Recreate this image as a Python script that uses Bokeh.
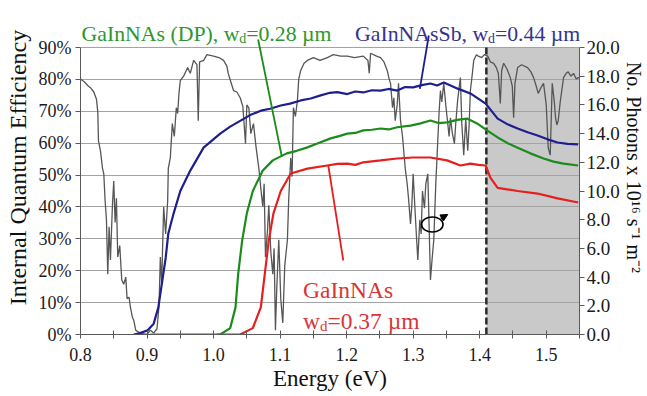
import math
from bokeh.plotting import figure
from bokeh.models import (Range1d, LinearAxis, FixedTicker, Label, Arrow,
                          NormalHead, BoxAnnotation)
from bokeh.embed import file_html
from bokeh.resources import INLINE

# ---------------- data ----------------
X_TICKS = [0.8, 0.9, 1.0, 1.1, 1.2, 1.3, 1.4, 1.5]
X_TICK_LABELS = ["0.8", "0.9", "1.0", "1.1", "1.2", "1.3", "1.4", "1.5"]
X_MINOR_TICKS = [0.85, 0.95, 1.05, 1.15, 1.25, 1.35, 1.45, 1.55]
IQE_TICKS = [0, 10, 20, 30, 40, 50, 60, 70, 80, 90]
IQE_TICK_LABELS = ["0%", "10%", "20%", "30%", "40%", "50%", "60%", "70%", "80%", "90%"]
PH_TICKS = [0, 2, 4, 6, 8, 10, 12, 14, 16, 18, 20]
PH_TICK_LABELS = ["0.0", "2.0", "4.0", "6.0", "8.0", "10.0", "12.0", "14.0", "16.0", "18.0", "20.0"]

GAAS_EDGE = 1.41  # eV, dashed line / start of grey region

# GaInNAsSb, wd = 0.44 um (IQE %)
SB_E = [0.880, 0.887, 0.901, 0.910, 0.917, 0.923, 0.928, 0.932, 0.940, 0.950,
        0.965, 0.985, 1.010, 1.025, 1.040, 1.055, 1.071, 1.085, 1.101, 1.115,
        1.131, 1.146, 1.161, 1.175, 1.186, 1.201, 1.213, 1.225, 1.238, 1.251,
        1.263, 1.276, 1.288, 1.300, 1.313, 1.326, 1.336, 1.346, 1.357, 1.367,
        1.386, 1.409, 1.427, 1.442, 1.457, 1.472, 1.487, 1.502, 1.517, 1.532, 1.548]
SB_IQE = [0.0, 0.3, 1.3, 3.4, 8.5, 17.0, 24.0, 31.7, 38.0, 45.0,
          51.4, 58.6, 63.0, 65.2, 67.0, 68.8, 70.2, 70.8, 71.8, 72.4,
          73.4, 74.0, 75.0, 75.8, 76.0, 75.4, 76.2, 75.9, 76.6, 76.5,
          77.0, 76.5, 77.6, 77.5, 78.2, 78.7, 78.1, 79.0, 78.0, 77.1,
          75.6, 72.4, 67.7, 65.9, 64.6, 63.4, 62.4, 61.2, 60.2, 59.8, 59.6]

# GaInNAs (DP), wd = 0.28 um (IQE %)
DP_E = [0.905, 1.010, 1.025, 1.033, 1.037, 1.043, 1.050, 1.059, 1.074, 1.089,
        1.110, 1.125, 1.140, 1.155, 1.176, 1.190, 1.201, 1.213, 1.225, 1.238,
        1.251, 1.263, 1.276, 1.296, 1.311, 1.326, 1.338, 1.351, 1.366, 1.381,
        1.396, 1.411, 1.427, 1.442, 1.457, 1.476, 1.496, 1.511, 1.526, 1.548]
DP_IQE = [0.0, 0.0, 2.0, 8.5, 19.0, 29.5, 38.0, 45.0, 51.4, 54.6,
          56.8, 57.6, 58.6, 59.8, 61.5, 62.3, 63.0, 63.2, 64.0, 64.2,
          64.6, 64.3, 65.0, 65.5, 66.2, 67.1, 66.3, 66.5, 67.3, 67.7,
          66.2, 64.0, 61.8, 60.0, 58.6, 56.8, 55.2, 54.2, 53.6, 53.0]

# GaInNAs, wd = 0.37 um (IQE %)
NA_E = [1.005, 1.040, 1.059, 1.071, 1.077, 1.083, 1.090, 1.101, 1.116, 1.141,
        1.171, 1.186, 1.201, 1.213, 1.225, 1.238, 1.251, 1.276, 1.300, 1.326,
        1.351, 1.371, 1.386, 1.398, 1.409, 1.416, 1.427, 1.457, 1.487, 1.517, 1.548]
NA_IQE = [0.0, 0.0, 2.0, 8.5, 19.0, 29.5, 38.0, 45.0, 50.5, 52.0,
          53.0, 53.5, 53.6, 53.2, 54.0, 54.3, 54.6, 55.2, 55.5, 55.5,
          54.6, 53.0, 53.6, 53.2, 53.0, 49.2, 46.0, 45.0, 44.2, 42.7, 41.4]

# Photon flux (x 1e16 s^-1 m^-2)
PH_E = [0.800, 0.806, 0.812, 0.815, 0.820, 0.824, 0.826, 0.827, 0.830, 0.833,
        0.835, 0.837, 0.839, 0.841, 0.843, 0.845, 0.848, 0.850, 0.852, 0.854,
        0.856, 0.859, 0.862, 0.865, 0.868, 0.870, 0.873, 0.875, 0.878, 0.880,
        0.883, 0.886, 0.890, 0.900, 0.905, 0.910, 0.915, 0.918, 0.920, 0.922,
        0.925, 0.928, 0.931, 0.932, 0.935, 0.938, 0.941, 0.944, 0.946, 0.948,
        0.950, 0.955, 0.961, 0.965, 0.970, 0.975, 0.977, 0.979, 0.985, 0.990,
        1.000, 1.008, 1.015, 1.020, 1.022, 1.026, 1.030, 1.035, 1.040, 1.044,
        1.048, 1.050, 1.053, 1.056, 1.060, 1.064, 1.068, 1.071, 1.074, 1.076,
        1.078, 1.081, 1.083, 1.086, 1.089, 1.091, 1.093, 1.095, 1.098, 1.101,
        1.104, 1.107, 1.111, 1.113, 1.116, 1.118, 1.120, 1.123, 1.126, 1.128,
        1.131, 1.136, 1.141, 1.150, 1.160, 1.171, 1.180, 1.191, 1.201, 1.212,
        1.225, 1.232, 1.234, 1.236, 1.245, 1.251, 1.256, 1.261, 1.264, 1.266,
        1.269, 1.271, 1.273, 1.276, 1.278, 1.281, 1.284, 1.288, 1.291, 1.293,
        1.296, 1.298, 1.300, 1.303, 1.305, 1.307, 1.310, 1.312, 1.314, 1.317,
        1.319, 1.322, 1.324, 1.326, 1.328, 1.331, 1.334, 1.337, 1.339, 1.341,
        1.343, 1.346, 1.349, 1.352, 1.354, 1.356, 1.359, 1.362, 1.364, 1.367,
        1.371, 1.373, 1.376, 1.379, 1.382, 1.384, 1.386, 1.389, 1.391, 1.395,
        1.398, 1.403, 1.407, 1.412, 1.416, 1.421, 1.425, 1.428, 1.431, 1.433,
        1.436, 1.441, 1.446, 1.449, 1.451, 1.453, 1.457, 1.463, 1.472, 1.477,
        1.481, 1.485, 1.488, 1.492, 1.496, 1.500, 1.503, 1.506, 1.509, 1.512,
        1.514, 1.516, 1.518, 1.521, 1.526, 1.530, 1.533, 1.537, 1.541, 1.545,
        1.548, 1.550]
PH_FLUX = [17.8, 17.6, 17.3, 17.2, 16.9, 16.4, 15.5, 13.5, 12.8, 11.6,
           11.2, 9.3, 8.0, 4.2, 7.5, 5.2, 9.0, 10.7, 7.8, 9.5,
           5.4, 6.2, 3.8, 3.5, 4.0, 2.5, 2.6, 1.9, 1.2, 1.0,
           0.3, 0.2, 0.1, 0.0, 0.3, 0.1, 0.4, 2.0, 5.4, 3.5,
           8.9, 7.0, 9.3, 11.6, 12.3, 14.7, 13.8, 15.8, 15.4, 16.8,
           17.7, 18.0, 18.6, 18.2, 19.1, 18.8, 14.9, 19.0, 19.1, 19.5,
           19.4, 19.3, 19.1, 18.7, 18.2, 17.6, 17.0, 16.9, 16.5, 15.9,
           13.3, 16.0, 15.8, 14.0, 14.7, 13.0, 11.6, 10.2, 8.9, 10.5,
           5.4, 7.2, 9.0, 5.8, 4.2, 6.0, 0.3, 3.2, 6.6, 2.5,
           0.8, 4.8, 6.6, 9.5, 12.3, 11.0, 15.8, 15.2, 16.3, 17.8,
           18.4, 18.9, 19.1, 19.3, 19.1, 19.3, 19.5, 19.4, 19.4, 19.3,
           19.4, 19.1, 18.2, 19.6, 19.4, 19.3, 19.0, 18.4, 17.8, 17.5,
           15.8, 16.5, 14.9, 16.0, 17.5, 14.9, 13.8, 11.6, 10.5, 9.5,
           7.7, 9.0, 11.2, 8.5, 6.8, 5.2, 8.0, 7.0, 10.0, 8.8,
           10.5, 11.2, 7.5, 3.8, 5.0, 6.6, 10.5, 13.5, 15.5, 17.0,
           16.2, 17.5, 16.0, 14.7, 13.8, 15.1, 14.0, 13.3, 14.7, 16.4,
           17.9, 14.8, 12.5, 15.0, 12.8, 14.5, 17.0, 18.2, 19.1, 19.5,
           19.4, 19.3, 19.5, 19.4, 19.0, 18.9, 18.6, 18.2, 16.1, 18.4,
           18.9, 18.5, 17.9, 17.3, 15.1, 17.5, 18.6, 18.8, 18.6, 18.3,
           17.9, 17.3, 16.8, 17.2, 17.5, 16.0, 13.0, 12.5, 17.5, 16.3,
           15.1, 14.6, 14.9, 16.2, 17.9, 18.2, 18.3, 18.0, 18.2, 17.8,
           17.9, 17.9]

# ---------------- layout / style ----------------
W, H = 647, 396
FL, FR, FT, FB = 80, 580, 47, 334   # page px of the data area (90 % line at FT)
X0, X1 = 0.8, 1.55
Y0, Y1 = 0, 90
PH_MAX = 20
FONT = "Liberation Serif"

GREEN, GREEN_T = "#1b8c1b", "#2f962f"
BLUE, BLUE_T = "#1e1e8c", "#35358c"
RED, RED_T = "#e61e1e", "#d93636"
GREY_LINE = "#565656"


def px2x(px):
    return X0 + (px - FL) / (FR - FL) * (X1 - X0)


def py2y(py):
    return Y0 + (FB - py) / (FB - FT) * (Y1 - Y0)


# the frame reaches the top of the page so that the headings are drawn inside it
p = figure(width=W, height=H, output_backend="svg", toolbar_location=None,
           x_range=Range1d(X0, X1), y_range=Range1d(Y0, py2y(0)),
           min_border_left=FL, min_border_right=W - FR,
           min_border_top=0, min_border_bottom=H - FB)
p.outline_line_color = None
p.background_fill_color = "white"
p.border_fill_color = "white"
p.extra_y_ranges = {"photons": Range1d(0, PH_MAX * py2y(0) / Y1)}

box = BoxAnnotation(left=GAAS_EDGE, right=X1, bottom=Y0, top=Y1, fill_color="#c9c9c9",
                    fill_alpha=1.0, line_color=None, level="underlay")
p.center = [box] + list(p.center)

p.xgrid.visible = False
p.ygrid.grid_line_color = "#a3a3a3"
p.ygrid.grid_line_width = 1
p.ygrid.ticker = FixedTicker(ticks=IQE_TICKS)

xa = p.xaxis[0]
xa.ticker = FixedTicker(ticks=X_TICKS, minor_ticks=X_MINOR_TICKS)
xa.major_label_overrides = {t: s for t, s in zip(X_TICKS, X_TICK_LABELS)}
xa.major_tick_in = 4
xa.major_tick_out = 4
xa.minor_tick_in = 4
xa.minor_tick_out = 4
xa.major_label_standoff = 9
xa.axis_label = "Energy (eV)"
xa.axis_label_text_font_size = "23px"
xa.axis_label_standoff = 2

ya = p.yaxis[0]
ya.ticker = FixedTicker(ticks=IQE_TICKS)
ya.bounds = (Y0, Y1)
ya.major_label_overrides = {t: s for t, s in zip(IQE_TICKS, IQE_TICK_LABELS)}
ya.major_tick_in = 0
ya.major_tick_out = 5
ya.major_label_standoff = 4
ya.axis_label = "Internal Quantum Efficiency"
ya.axis_label_text_font_size = "24px"
ya.axis_label_standoff = 5

ra = LinearAxis(y_range_name="photons", ticker=FixedTicker(ticks=PH_TICKS))
ra.bounds = (0, PH_MAX)
ra.major_label_overrides = {t: s for t, s in zip(PH_TICKS, PH_TICK_LABELS)}
ra.major_tick_in = 0
ra.major_tick_out = 5
ra.major_label_standoff = 2
ra.axis_label = "No. Photons x 10\u00b9\u2076 s\u207b\u00b9 m\u207b\u00b2"
ra.axis_label_text_font_size = "20px"
ra.axis_label_standoff = 0
p.add_layout(ra, "right")

for ax in (xa, ya, ra):
    ax.axis_line_color = "#5a5a5a"
    ax.major_tick_line_color = "#5a5a5a"
    ax.minor_tick_line_color = "#5a5a5a" if ax is xa else None
    ax.major_label_text_font = FONT
    ax.major_label_text_color = "#1a1a1a"
    ax.major_label_text_font_size = "18px"
    ax.axis_label_text_font = FONT
    ax.axis_label_text_font_style = "normal"
    ax.axis_label_text_color = "#111111"
ra.major_label_text_font_size = "19px"

# curves
p.line(PH_E, PH_FLUX, y_range_name="photons", line_color=GREY_LINE, line_width=1.3)
p.segment(x0=[GAAS_EDGE], y0=[Y0], x1=[GAAS_EDGE], y1=[Y1], line_color="#2a2a2a",
          line_width=2.5, line_dash="7 3")
p.line(SB_E, SB_IQE, line_color=BLUE, line_width=2.2)
p.line(DP_E, DP_IQE, line_color=GREEN, line_width=2.2)
p.line(NA_E, NA_IQE, line_color=RED, line_width=2.2)

# ellipse marker pointing to the right axis
p.ellipse(x=[px2x(432.5)], y=[py2y(224)], width=[px2x(454) - px2x(432.5)],
          height=[py2y(209) - py2y(224)], fill_color=None, line_color="black", line_width=1.6)
p.add_layout(Arrow(end=NormalHead(size=7, fill_color="black", line_color="black"),
                   x_start=px2x(441), y_start=py2y(218), x_end=px2x(448), y_end=py2y(214),
                   line_color="black", line_width=1.6))

# pointer lines from the labels to the curves
for (x_a, y_a, x_b, y_b, c) in [(258, 39, 281.7, 156, GREEN),
                                (429, 35, 420, 88.3, BLUE),
                                (328.3, 165, 343.3, 260, RED)]:
    p.add_layout(Arrow(end=None, x_start=px2x(x_a), y_start=py2y(y_a),
                       x_end=px2x(x_b), y_end=py2y(y_b), line_color=c, line_width=1.8))


def txt(px, py, s, color, fs):
    p.add_layout(Label(x=px2x(px), y=py2y(py), text=s, text_font=FONT,
                       text_font_size=f"{fs:.1f}px", text_color=color,
                       text_align="left", text_baseline="alphabetic"))


def with_sub(px, py, pre, sub, post, color, fs, pre_em):
    """text + subscript 'd' + text; widths from Times/Liberation Serif metrics (em)."""
    txt(px, py, pre, color, fs)
    xs = px + pre_em * fs
    txt(xs, py + 0.22 * fs, sub, color, 0.64 * fs)
    txt(xs + 0.5 * 0.64 * fs, py, post, color, fs)


TFS = 21.8
with_sub(81, 33, "GaInNAs (DP), w", "d", "=0.28 \u00b5m", GREEN_T, TFS, 7.248)
with_sub(579 - 10.272 * TFS, 33, "GaInNAsSb, w", "d", "=0.44 \u00b5m", BLUE_T, TFS, 6.110)
txt(303, 289, "GaInNAs", RED_T, 23.5)
with_sub(303, 320, "w", "d", "=0.37 \u00b5m", RED_T, 23.5, 0.722)

open("out.html", "w").write(file_html(p, INLINE))
